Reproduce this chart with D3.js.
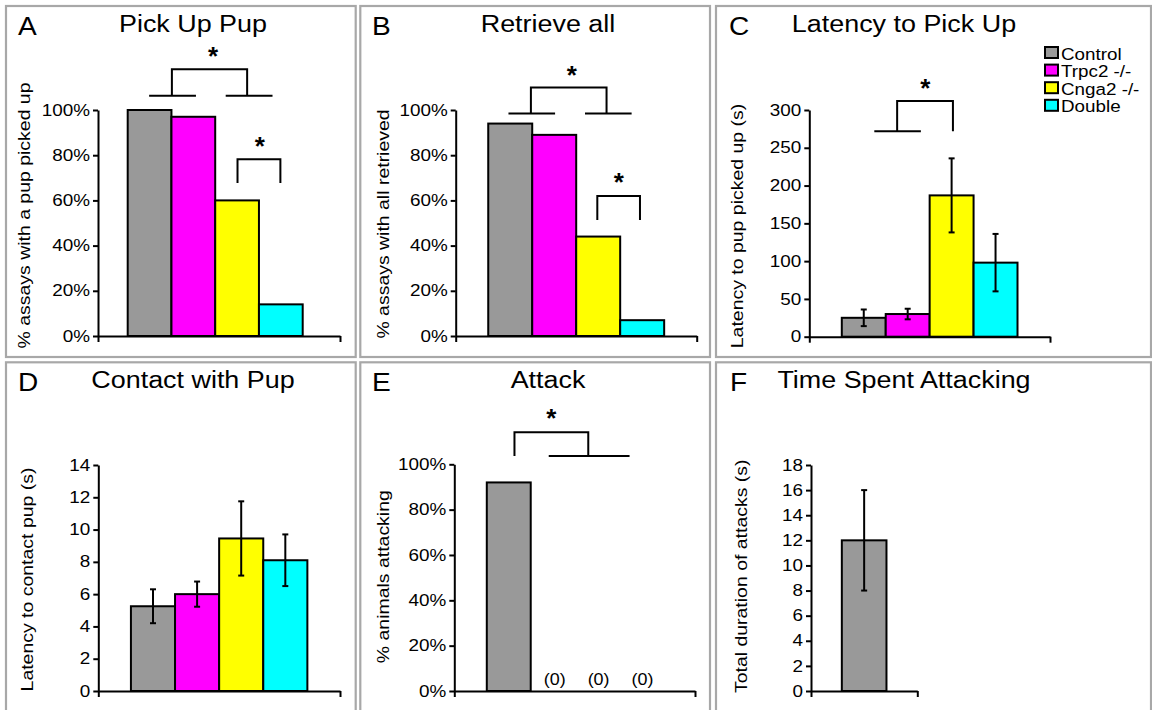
<!DOCTYPE html>
<html>
<head>
<meta charset="utf-8">
<script src="https://cdn.jsdelivr.net/npm/d3@7"></script>
<style>
  body { margin: 0; background: #fff; }
  svg { display: block; font-family: "Liberation Sans", Arial, sans-serif; }
</style>
</head>
<body>
<div id="chart"></div>
<script>
// Pup behaviour panels A-F, four genotypes

const groups = ["Control", "Trpc2 -/-", "Cnga2 -/-", "Double"];
const groupColors = ["#999999", "#ff00ff", "#ffff00", "#00ffff"];

const pickUpPct = [100, 97, 60, 14];
const retrievePct = [94, 89, 44, 7];
const latencyPickUp = [25, 30, 187, 98];
const latencyPickUpErr = [11, 7, 49, 38];
const latencyContact = [5.25, 6.0, 9.45, 8.1];
const latencyContactErr = [1.05, 0.78, 2.3, 1.6];
const attackPct = [92, 0, 0, 0];
const attackTime = [12];
const attackTimeErr = [4];

const pctTicks = [0, 20, 40, 60, 80, 100];
const latencyTicks = [0, 50, 100, 150, 200, 250, 300];
const contactTicks = [0, 2, 4, 6, 8, 10, 12, 14];
const attackTimeTicks = [0, 2, 4, 6, 8, 10, 12, 14, 16, 18];

// significance brackets, in (bar units, value units)
const bracketsA = [
  [[0.49, 106.3], [1.56, 106.3]],
  [[2.24, 106.3], [3.31, 106.3]],
  [[1.01, 106.3], [1.01, 118], [2.73, 118], [2.73, 106.3]],
  [[2.51, 67.7], [2.51, 78.2], [3.49, 78.2], [3.49, 67.7]]
];
const starsA = [[1.95, 126.5], [3.02, 86.7]];
const bracketsB = [
  [[0.46, 98.4], [1.52, 98.4]],
  [[2.2, 98.4], [3.26, 98.4]],
  [[0.97, 98.4], [0.97, 110], [2.69, 110], [2.69, 98.4]],
  [[2.48, 51.3], [2.48, 62], [3.45, 62], [3.45, 51.3]]
];
const starsB = [[1.9, 118], [2.97, 70.8]];
const bracketsC = [
  [[0.74, 272], [1.8, 272]],
  [[1.26, 272], [1.26, 312], [2.53, 312], [2.53, 272]]
];
const starsC = [[1.9, 337]];
const bracketsE = [
  [[0.63, 103.7], [0.63, 114.1], [2.31, 114.1], [2.31, 103.7]],
  [[1.41, 103.7], [3.25, 103.7]]
];
const starsE = [[1.47, 122.9]];

const W = 1152, H = 710;
const svg = d3.select("#chart").append("svg").attr("width", W).attr("height", H);
svg.append("rect").attr("width", W).attr("height", H).attr("fill", "#fff");

// the original type is drawn wider than Arial
function stretch(sel, s) {
  sel.each(function () {
    const t = d3.select(this);
    const x = +t.attr("x") || 0, y = +t.attr("y") || 0;
    const prev = t.attr("transform") || "";
    t.attr("transform", `${prev} translate(${x},${y}) scale(${s},1) translate(${-x},${-y})`);
  });
}

// panel frames
const frames = [
  [6, 6, 355.7, 357], [360.3, 6, 710, 357], [716, 6, 1151, 357],
  [6, 362.3, 355.7, 760], [360.3, 362.3, 710, 760], [716, 362.3, 1151, 760]
];
svg.selectAll(".frame").data(frames).enter().append("rect")
  .attr("class", "frame")
  .attr("x", d => d[0]).attr("y", d => d[1])
  .attr("width", d => d[2] - d[0]).attr("height", d => d[3] - d[1])
  .attr("fill", "none").attr("stroke", "#a8a8a8").attr("stroke-width", 2.2);

const panels = [
  { letter: "A", title: "Pick Up Pup", ylabel: "% assays with a pup picked up",
    values: pickUpPct, ticks: pctTicks, pct: true, barRange: [127.7, 302.7],
    x0: 98, x1: 340, yTop: 110, yBot: 336, lx: 18, tx: 193, row: 0,
    labX: 30, labY: 215.5, brackets: bracketsA, stars: starsA },
  { letter: "B", title: "Retrieve all", ylabel: "% assays with all retrieved",
    values: retrievePct, ticks: pctTicks, pct: true,
    x0: 455.7, x1: 696.7, yTop: 110, yBot: 336, lx: 372, tx: 548, row: 0,
    labX: 389.4, labY: 224, brackets: bracketsB, stars: starsB },
  { letter: "C", title: "Latency to Pick Up", ylabel: "Latency to pup picked up (s)",
    values: latencyPickUp, errors: latencyPickUpErr, ticks: latencyTicks,
    x0: 809.3, x1: 1050, yTop: 110, yBot: 336.7, lx: 729, tx: 904, row: 0,
    labX: 743.4, labY: 226, brackets: bracketsC, stars: starsC, legend: true },
  { letter: "D", title: "Contact with Pup", ylabel: "Latency to contact pup (s)",
    values: latencyContact, errors: latencyContactErr, ticks: contactTicks,
    x0: 98.3, x1: 340, yTop: 465, yBot: 691, lx: 18, tx: 193, row: 1,
    labX: 33.4, labY: 579.5 },
  { letter: "E", title: "Attack", ylabel: "% animals attacking",
    values: attackPct, ticks: pctTicks, pct: true, zeroLabels: true,
    x0: 454.3, x1: 695, yTop: 464.3, yBot: 691, lx: 372, tx: 548, row: 1,
    labX: 389.4, labY: 576.7, brackets: bracketsE, stars: starsE },
  { letter: "F", title: "Time Spent Attacking", ylabel: "Total duration of attacks (s)",
    values: attackTime, errors: attackTimeErr, ticks: attackTimeTicks, single: true,
    x0: 811, x1: 917.3, yTop: 465, yBot: 691, lx: 730, tx: 904, row: 1,
    labX: 747.4, labY: 576.3 }
];

panels.forEach(p => {
  const g = svg.append("g");
  const rowOff = p.row * 356;
  const cats = p.single ? groups.slice(0, 1) : groups;
  const padFrac = p.single ? 0.29 : 0.135;
  const span = p.x1 - p.x0;

  const y = d3.scaleLinear()
    .domain([0, d3.max(p.ticks)])
    .range([p.yBot, p.yTop]);
  const xAxisScale = d3.scaleLinear().domain([0, 1]).range([p.x0, p.x1]);
  const x = d3.scaleBand()
    .domain(cats)
    .range(p.barRange || [p.x0 + padFrac * span, p.x1 - padFrac * span])
    .padding(0);
  const xu = u => x.range()[0] + u * x.bandwidth();

  // letter + title
  g.append("text").attr("x", p.lx).attr("y", 35 + rowOff)
    .attr("font-size", 26).attr("fill", "#000").text(p.letter)
    .call(stretch, 1.08);
  g.append("text").attr("x", p.tx).attr("y", 32 + rowOff)
    .attr("text-anchor", "middle").attr("font-size", 23).attr("fill", "#000")
    .text(p.title).call(stretch, 1.17);

  // bars
  const rows = cats.map((c, i) => ({ cat: c, v: p.values[i], e: p.errors ? p.errors[i] : null, color: groupColors[i] }));
  g.selectAll(".bar").data(rows.filter(d => d.v > 0)).enter().append("rect")
    .attr("class", "bar")
    .attr("x", d => x(d.cat)).attr("width", x.bandwidth())
    .attr("y", d => y(d.v)).attr("height", d => y(0) - y(d.v))
    .attr("fill", d => d.color).attr("stroke", "#000").attr("stroke-width", 2);

  // error bars
  if (p.errors) {
    const eb = g.selectAll(".err").data(rows).enter().append("g")
      .attr("stroke", "#000").attr("stroke-width", 2);
    eb.append("line")
      .attr("x1", d => x(d.cat) + x.bandwidth() / 2).attr("x2", d => x(d.cat) + x.bandwidth() / 2)
      .attr("y1", d => y(d.v - d.e)).attr("y2", d => y(d.v + d.e));
    [-1, 1].forEach(sgn => {
      eb.append("line")
        .attr("x1", d => x(d.cat) + x.bandwidth() / 2 - 3).attr("x2", d => x(d.cat) + x.bandwidth() / 2 + 3)
        .attr("y1", d => y(d.v + sgn * d.e)).attr("y2", d => y(d.v + sgn * d.e));
    });
  }

  // "(0)" labels for empty groups
  if (p.zeroLabels) {
    g.selectAll(".zero").data(rows.filter(d => d.v === 0)).enter().append("text")
      .attr("x", d => x(d.cat) + x.bandwidth() / 2 + 2).attr("y", y(0) - 6)
      .attr("text-anchor", "middle").attr("font-size", 16).text("(0)")
      .call(stretch, 1.12);
  }

  // axes
  const yAxis = g.append("g").attr("transform", `translate(${p.x0},0)`)
    .call(d3.axisLeft(y).tickValues(p.ticks).tickSize(5).tickSizeOuter(0).tickPadding(3)
      .tickFormat(d => p.pct ? d + "%" : d));
  const xAxis = g.append("g").attr("transform", `translate(0,${p.yBot})`)
    .call(d3.axisBottom(xAxisScale).tickValues([0, 1]).tickSize(6).tickSizeOuter(0).tickFormat(""));
  [yAxis, xAxis].forEach(a => {
    a.select(".domain").attr("stroke", "#000").attr("stroke-width", 2);
    a.selectAll(".tick line").attr("stroke", "#000").attr("stroke-width", 2);
  });
  yAxis.selectAll(".tick text").attr("font-size", 16).attr("fill", "#000")
    .attr("font-family", "Liberation Sans, Arial, sans-serif").call(stretch, 1.18);

  // y label
  g.append("text")
    .attr("transform", `translate(${p.labX},${p.labY}) rotate(-90)`)
    .attr("text-anchor", "middle").attr("font-size", 16.5).attr("fill", "#000")
    .text(p.ylabel).call(stretch, 1.18);

  // significance brackets
  const line = d3.line().x(d => xu(d[0])).y(d => y(d[1]));
  (p.brackets || []).forEach(b => {
    g.append("path").attr("d", line(b)).attr("fill", "none")
      .attr("stroke", "#000").attr("stroke-width", 2);
  });
  (p.stars || []).forEach(s => {
    g.append("text").attr("x", xu(s[0])).attr("y", y(s[1])).attr("dy", "0.56em")
      .attr("text-anchor", "middle").attr("font-size", 26).attr("font-weight", "bold")
      .text("*");
  });

  // legend
  if (p.legend) {
    const lg = g.append("g").attr("transform", "translate(1045,47)");
    const item = lg.selectAll(".li").data(groups).enter().append("g")
      .attr("transform", (d, i) => `translate(0,${i * 17.6})`);
    item.append("rect").attr("width", 13).attr("height", 11)
      .attr("fill", (d, i) => groupColors[i]).attr("stroke", "#000").attr("stroke-width", 2);
    item.append("text").attr("x", 16).attr("y", 12.5).attr("font-size", 16.5)
      .attr("fill", "#000").text(d => d).call(stretch, 1.14);
  }
});
</script>
</body>
</html>
